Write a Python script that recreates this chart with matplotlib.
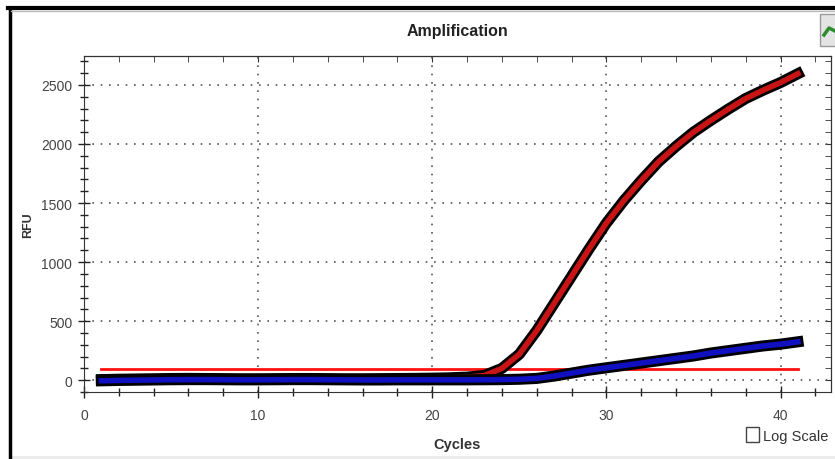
import matplotlib.pyplot as plt
import matplotlib.patheffects as pe
from matplotlib.patches import Rectangle
from matplotlib.lines import Line2D
from matplotlib.ticker import MultipleLocator

# Data
cycles = list(range(1, 42))
red_rfu = [5, 8, 10, 12, 14, 15, 14, 13, 12, 12, 13, 14, 14, 13, 12, 12, 13, 14, 15, 17, 20, 26,
           40, 100, 220, 420, 650, 880, 1110, 1330, 1520, 1690, 1850, 1980, 2100, 2200,
           2295, 2385, 2455, 2520, 2595]
blue_rfu = [-5, -2, 0, 2, 4, 5, 5, 4, 3, 3, 4, 5, 5, 4, 3, 2, 2, 3, 3, 3, 3, 3,
            4, 5, 8, 15, 35, 60, 85, 105, 125, 145, 165, 185, 205, 230,
            250, 270, 290, 305, 325]
threshold = 93
thr_cycles = [1, 41]

plt.rcParams['font.family'] = ['Liberation Sans', 'DejaVu Sans']

fig = plt.figure(figsize=(8.35, 4.6), dpi=100)
ax = fig.add_axes([84 / 835, 1 - 393 / 460, (831 - 84) / 835, (393 - 57) / 460])

# threshold line
ax.plot(thr_cycles, [threshold, threshold], color='#ff1010', linewidth=2, zorder=3)

# curves: coloured core with black outline
outline = [pe.Stroke(linewidth=8, foreground='black'), pe.Normal()]
ax.plot(cycles, red_rfu, color='#c81414', linewidth=4, path_effects=outline,
        solid_joinstyle='round', zorder=4)
ax.plot(cycles, blue_rfu, color='#1010c0', linewidth=4, path_effects=outline,
        solid_joinstyle='round', zorder=5)

ax.set_xlim(0, 42.9)
ax.set_ylim(-100, 2745)

ax.xaxis.set_major_locator(MultipleLocator(10))
ax.xaxis.set_minor_locator(MultipleLocator(2))
ax.yaxis.set_major_locator(MultipleLocator(500))
ax.yaxis.set_minor_locator(MultipleLocator(100))
ax.tick_params(which='major', direction='inout', length=9, width=1, color='#222222',
               labelsize=10, labelcolor='#444444')
ax.tick_params(which='minor', direction='inout', length=6, width=1, color='#222222')
ax.tick_params(axis='x', pad=7)
ax.tick_params(axis='y', pad=4)

# top and right axes with inward ticks
top = ax.secondary_xaxis('top')
top.xaxis.set_major_locator(MultipleLocator(10))
top.xaxis.set_minor_locator(MultipleLocator(2))
top.tick_params(which='both', direction='in', labeltop=False, length=4, color='#333333')
right = ax.secondary_yaxis('right')
right.yaxis.set_major_locator(MultipleLocator(500))
right.yaxis.set_minor_locator(MultipleLocator(100))
right.tick_params(which='both', direction='in', labelright=False, length=4, color='#333333')

ax.grid(which='major', linestyle=(0, (1, 4)), linewidth=1.2, color='#555555')
for s in ax.spines.values():
    s.set_color('#333333')

ax.set_title('Amplification', fontsize=11.5, fontweight='bold', color='#222222', pad=15)
ax.set_xlabel('Cycles', fontsize=10.5, fontweight='bold', color='#333333', labelpad=11)
ax.set_ylabel('RFU', fontsize=9, fontweight='bold', color='#333333', labelpad=5)

# window frame
fig.add_artist(Line2D([9.5 / 835, 9.5 / 835], [0, 1 - 9 / 460], color='black', linewidth=2.5))
fig.add_artist(Line2D([8 / 835, 1], [1 - 9 / 460, 1 - 9 / 460], color='black', linewidth=3))
fig.add_artist(Line2D([11 / 835, 1], [1 - 12 / 460, 1 - 12 / 460], color='#bbbbbb', linewidth=1))
fig.add_artist(Rectangle((11 / 835, 0), 1, 3 / 460, facecolor='#ececec', edgecolor='none'))

# zoom button
fig.add_artist(Rectangle((820 / 835, 1 - 47 / 460), 20 / 835, 32 / 460,
                         facecolor='#e4e4e4', edgecolor='#999999', linewidth=1))
fig.add_artist(Line2D([824 / 835, 829 / 835, 835 / 835], [1 - 36 / 460, 1 - 29 / 460, 1 - 32 / 460],
                      color='#2e8b2e', linewidth=2.5))

# log scale checkbox
fig.add_artist(Rectangle((746 / 835, 1 - 443 / 460), 13 / 835, 15 / 460,
                         facecolor='white', edgecolor='#444444', linewidth=1))
fig.text(763 / 835, 1 - 437 / 460, 'Log Scale', fontsize=10.5, color='#333333', va='center')

plt.savefig('out.png', dpi=100)
